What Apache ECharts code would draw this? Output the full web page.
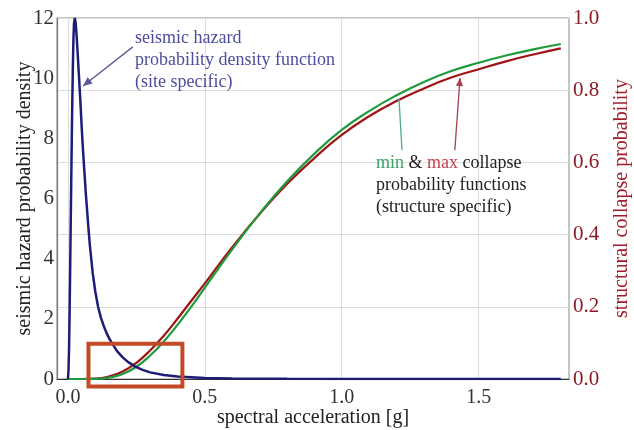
<!DOCTYPE html>
<html>
<head>
<meta charset="utf-8">
<script src="https://cdn.jsdelivr.net/npm/echarts@6/dist/echarts.min.js"></script>
<style>html,body{margin:0;padding:0;background:#fff}#c{width:634px;height:430px}</style>
</head>
<body>
<div id="c"></div>
<script>
// seismic hazard probability density (site specific)
const hazardX = [0, 0.002, 0.004, 0.006, 0.008, 0.010, 0.012, 0.014, 0.016, 0.018, 0.020, 0.022, 0.025, 0.028, 0.031, 0.035, 0.04, 0.045, 0.05, 0.055, 0.06, 0.065, 0.07, 0.075, 0.08, 0.09, 0.10, 0.11, 0.12, 0.13, 0.14, 0.15, 0.16, 0.18, 0.20, 0.22, 0.245, 0.27, 0.30, 0.35, 0.40, 0.50, 0.60, 0.80, 1.00, 1.40, 1.80];
const hazardY = [0, 0.3, 1.0, 2.2, 3.6, 5.1, 6.6, 8.0, 9.3, 10.4, 11.3, 11.8, 12.0, 11.85, 11.5, 10.9, 10.1, 9.3, 8.4, 7.6, 6.9, 6.2, 5.6, 5.0, 4.45, 3.55, 2.9, 2.4, 2.05, 1.78, 1.55, 1.36, 1.2, 0.92, 0.72, 0.56, 0.42, 0.31, 0.22, 0.13, 0.08, 0.035, 0.016, 0.005, 0.002, 0.0005, 0.0002];

// collapse probability functions (structure specific)
const collapseX = [0, 0.05, 0.10, 0.15, 0.20, 0.25, 0.30, 0.35, 0.40, 0.45, 0.50, 0.60, 0.70, 0.80, 0.90, 1.00, 1.10, 1.20, 1.30, 1.40, 1.50, 1.60, 1.70, 1.80];
const collapseMin = [0, 0, 0.0004, 0.004, 0.014, 0.034, 0.065, 0.104, 0.150, 0.200, 0.253, 0.359, 0.458, 0.547, 0.624, 0.690, 0.742, 0.786, 0.823, 0.853, 0.876, 0.896, 0.913, 0.928];
const collapseMax = [0, 0, 0.001, 0.007, 0.021, 0.045, 0.079, 0.120, 0.167, 0.216, 0.265, 0.365, 0.457, 0.540, 0.612, 0.676, 0.728, 0.770, 0.805, 0.835, 0.858, 0.880, 0.899, 0.916];

const xTickValues = [0, 0.5, 1.0, 1.5];
const leftTicks = [0, 2, 4, 6, 8, 10, 12];
const rightTicks = [0, 0.2, 0.4, 0.6, 0.8, 1.0];

const FONT = 'Liberation Serif';
const chart = echarts.init(document.getElementById('c'), null, {renderer: 'canvas'});

const pairs = (xs, ys) => xs.map((x, i) => [x, ys[i]]);

chart.setOption({
  animation: false,
  backgroundColor: '#fff',
  grid: {left: 57, right: 65, top: 18, bottom: 51, containLabel: false, outerBoundsMode: 'none',
         show: true, borderColor: '#8a8a8a', borderWidth: 1},
  xAxis: {
    type: 'value', min: -0.04, max: 1.83, splitNumber: 4,
    name: 'spectral acceleration [g]', nameLocation: 'middle', nameGap: 29, nameMoveOverlap: false,
    nameTextStyle: {fontFamily: FONT, fontSize: 20, color: '#222'},
    axisLine: {show: true, onZero: false, lineStyle: {color: '#333', width: 1.2}},
    axisTick: {show: false},
    axisLabel: {fontFamily: FONT, fontSize: 20, color: '#333', margin: 9,
      formatter: v => xTickValues.some(t => Math.abs(t - v) < 1e-6) ? v.toFixed(1) : ''},
    splitLine: {show: true, lineStyle: {color: '#dcdcdc', width: 1}}
  },
  yAxis: [
    {
      type: 'value', min: leftTicks[0], max: leftTicks[leftTicks.length - 1], interval: 2, position: 'left',
      name: 'seismic hazard probability density', nameLocation: 'middle', nameGap: 22, nameMoveOverlap: false,
      nameTextStyle: {fontFamily: FONT, fontSize: 20, color: '#222'},
      axisLine: {show: true, onZero: false, lineStyle: {color: '#777', width: 1.2}},
      axisTick: {show: false},
      axisLabel: {fontFamily: FONT, fontSize: 21, color: '#333', margin: 3},
      splitLine: {show: false}
    },
    {
      type: 'value', min: rightTicks[0], max: rightTicks[rightTicks.length - 1], interval: 0.2, position: 'right',
      name: 'structural collapse probability', nameLocation: 'middle', nameGap: 43, nameMoveOverlap: false,
      nameTextStyle: {fontFamily: FONT, fontSize: 20, color: '#a01c2c'},
      axisLine: {show: true, onZero: false, lineStyle: {color: '#c4c4c4', width: 1}},
      axisTick: {show: false},
      axisLabel: {fontFamily: FONT, fontSize: 21, color: '#8e1a26', margin: 4, formatter: v => v.toFixed(1)},
      splitLine: {show: true, lineStyle: {color: '#dcdcdc', width: 1}}
    }
  ],
  series: [
    {type: 'line', name: 'hazard', yAxisIndex: 0, data: pairs(hazardX, hazardY), showSymbol: false, smooth: false,
     lineStyle: {color: '#1d1d78', width: 2.5}, z: 5},
    {type: 'line', name: 'max', yAxisIndex: 1, data: pairs(collapseX, collapseMax), showSymbol: false, smooth: true,
     lineStyle: {color: '#9e1414', width: 2.2}, z: 3},
    {type: 'line', name: 'min', yAxisIndex: 1, data: pairs(collapseX, collapseMin), showSymbol: false, smooth: true,
     lineStyle: {color: '#1f9a3c', width: 2.2}, z: 4}
  ]
});

// annotations placed via the chart's own coordinate conversion
const pL = (x, y) => chart.convertToPixel({xAxisIndex: 0, yAxisIndex: 0}, [x, y]);
const pR = (x, y) => chart.convertToPixel({xAxisIndex: 0, yAxisIndex: 1}, [x, y]);

function arrow(from, to, color, width, head) {
  const els = [{type: 'line', shape: {x1: from[0], y1: from[1], x2: to[0], y2: to[1]}, style: {stroke: color, lineWidth: width}, z: 20}];
  if (head) {
    const dx = to[0] - from[0], dy = to[1] - from[1];
    const L = Math.sqrt(dx * dx + dy * dy), ux = dx / L, uy = dy / L;
    const bx = to[0] - ux * head, by = to[1] - uy * head;
    const w = head * 0.45;
    els.push({type: 'polygon', shape: {points: [[to[0], to[1]], [bx - uy * w, by + ux * w], [bx + uy * w, by - ux * w]]}, style: {fill: color}, z: 21});
  }
  return els;
}

const b1 = pL(0.075, 1.17), b2 = pL(0.418, -0.25);
const graphics = [
  {type: 'rect', shape: {x: b1[0], y: b1[1], width: b2[0] - b1[0], height: b2[1] - b1[1]},
   style: {fill: 'none', stroke: '#c24a26', lineWidth: 4}, z: 30},
  {type: 'text', left: 135, top: 27, z: 25,
   style: {text: 'seismic hazard\nprobability density function\n(site specific)', font: '18px "Liberation Serif"', fill: '#4d4d9e', lineHeight: 22}},
  {type: 'text', left: 376, top: 152, z: 25,
   style: {text: '{g|min} & {r|max} collapse\nprobability functions\n(structure specific)', font: '18px "Liberation Serif"', fill: '#222', lineHeight: 22,
     rich: {g: {fill: '#3ca264', font: '18px "Liberation Serif"'}, r: {fill: '#c2404a', font: '18px "Liberation Serif"'}}}}
];
graphics.push(...arrow(pL(0.237, 11.04), pL(0.055, 9.74), '#5a5a98', 1.3, 9));
graphics.push(...arrow(pR(1.22, 0.634), pR(1.209, 0.778), '#4fae86', 1.3, 0));
graphics.push(...arrow(pR(1.413, 0.634), pR(1.432, 0.834), '#a8404e', 1.3, 8));
chart.setOption({graphic: graphics});
</script>
</body>
</html>
